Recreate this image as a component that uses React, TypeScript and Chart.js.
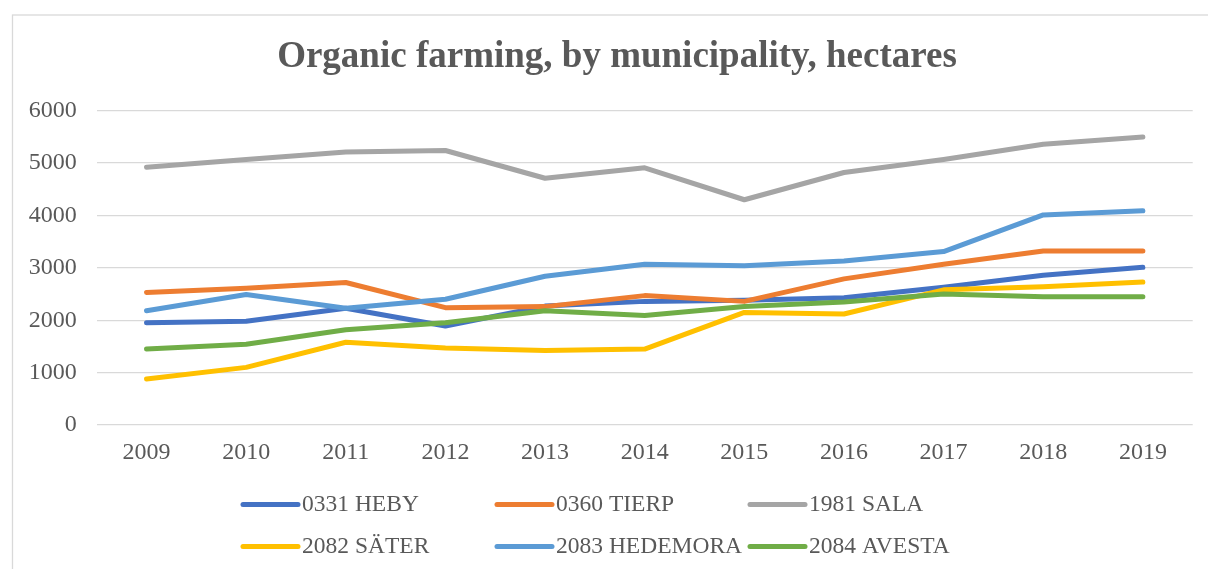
import React, { useEffect, useRef } from "react";
import { Chart, registerables } from "chart.js";

Chart.register(...registerables);

const years = ["2009", "2010", "2011", "2012", "2013", "2014", "2015", "2016", "2017", "2018", "2019"];
const seriesNames = ["0331 HEBY", "0360 TIERP", "1981 SALA", "2082 SÄTER", "2083 HEDEMORA", "2084 AVESTA"];
const heby = [1950, 1980, 2230, 1890, 2270, 2360, 2380, 2430, 2630, 2860, 3010];
const tierp = [2530, 2610, 2720, 2240, 2260, 2470, 2360, 2790, 3070, 3320, 3320];
const sala = [4920, 5070, 5210, 5240, 4710, 4910, 4300, 4820, 5070, 5360, 5500];
const sater = [880, 1100, 1580, 1470, 1420, 1450, 2150, 2120, 2580, 2640, 2730];
const hedemora = [2180, 2490, 2230, 2400, 2840, 3070, 3040, 3130, 3310, 4010, 4090];
const avesta = [1450, 1540, 1820, 1950, 2180, 2090, 2260, 2350, 2500, 2450, 2450];
const seriesValues = [heby, tierp, sala, sater, hedemora, avesta];
const seriesColors = ["#4472C4", "#ED7D31", "#A5A5A5", "#FFC000", "#5B9BD5", "#70AD47"];
const titleText = "Organic farming, by municipality, hectares";

const TEXT = "#595959";
const FONT = "'Liberation Serif', 'Times New Roman', serif";

const framePlugin = {
  id: "frame",
  beforeDraw(chart: any) {
    const ctx = chart.ctx;
    ctx.save();
    ctx.fillStyle = "#ffffff";
    ctx.fillRect(0, 0, chart.width, chart.height);
    ctx.strokeStyle = "#d9d9d9";
    ctx.lineWidth = 1.3;
    ctx.strokeRect(12.5, 15, chart.width + 20, chart.height + 20);
    ctx.restore();
  },
};

const titlePlugin = {
  id: "frameTitle",
  afterDraw(chart: any) {
    const ctx = chart.ctx;
    ctx.save();
    ctx.fillStyle = TEXT;
    ctx.font = `bold 37px ${FONT}`;
    ctx.textAlign = "center";
    ctx.textBaseline = "middle";
    ctx.fillText(titleText, 617, 57);
    ctx.restore();
  },
};

const legendPlugin = {
  id: "gridLegend",
  afterDraw(chart: any) {
    const ctx = chart.ctx;
    const cols = [243, 497, 750];
    const rows = [504.5, 546.5];
    const lineLen = 55;
    ctx.save();
    chart.data.datasets.forEach((ds: any, i: number) => {
      const x = cols[i % 3];
      const y = rows[Math.floor(i / 3)];
      ctx.strokeStyle = ds.borderColor;
      ctx.lineWidth = 5;
      ctx.lineCap = "round";
      ctx.beginPath();
      ctx.moveTo(x, y);
      ctx.lineTo(x + lineLen, y);
      ctx.stroke();
      ctx.fillStyle = TEXT;
      ctx.font = `23.5px ${FONT}`;
      ctx.textBaseline = "middle";
      ctx.textAlign = "left";
      ctx.fillText(ds.label, x + lineLen + 4, y);
    });
    ctx.restore();
  },
};

export default function App() {
  const ref = useRef<HTMLCanvasElement | null>(null);
  useEffect(() => {
    if (!ref.current) return;
    const chart = new Chart(ref.current, {
      type: "line",
      data: {
        labels: years,
        datasets: seriesNames.map((name, i) => ({
          label: name,
          data: seriesValues[i],
          borderColor: seriesColors[i],
          backgroundColor: seriesColors[i],
          borderWidth: 5,
          pointRadius: 0,
          pointHoverRadius: 0,
          tension: 0,
          borderCapStyle: "round" as const,
          borderJoinStyle: "round" as const,
          order: seriesNames.length - i,
        })),
      },
      options: {
        animation: false,
        responsive: false,
        maintainAspectRatio: false,
        layout: { padding: { left: 0, right: 15.3, top: 110.7, bottom: 101.6 } },
        plugins: {
          legend: { display: false },
          tooltip: { enabled: false },
          title: { display: false },
        },
        scales: {
          x: {
            type: "category",
            offset: true,
            grid: { display: false, drawTicks: false },
            border: { display: false },
            ticks: {
              color: TEXT,
              font: { family: FONT, size: 24, lineHeight: 1.2 },
              padding: 13.6,
              maxRotation: 0,
              autoSkip: false,
            },
            afterFit(scale: any) {
              scale.height = 42.4;
            },
          },
          y: {
            min: 0,
            max: 6000,
            grid: { color: "#d9d9d9", lineWidth: 1.3, drawTicks: false },
            border: { display: false },
            ticks: {
              stepSize: 1000,
              color: TEXT,
              font: { family: FONT, size: 24, lineHeight: 1.2 },
              padding: 20,
              callback: (v: any) => String(v),
            },
            afterFit(scale: any) {
              scale.width = 96.7;
            },
          },
        },
      },
      plugins: [framePlugin, titlePlugin, legendPlugin],
    });
    return () => chart.destroy();
  }, []);
  return (
    <div style={{ position: "absolute", left: 0, top: 0, width: 1208, height: 569, background: "#fff" }}>
      <canvas ref={ref} width={1208} height={569} style={{ display: "block", width: 1208, height: 569 }} />
    </div>
  );
}
